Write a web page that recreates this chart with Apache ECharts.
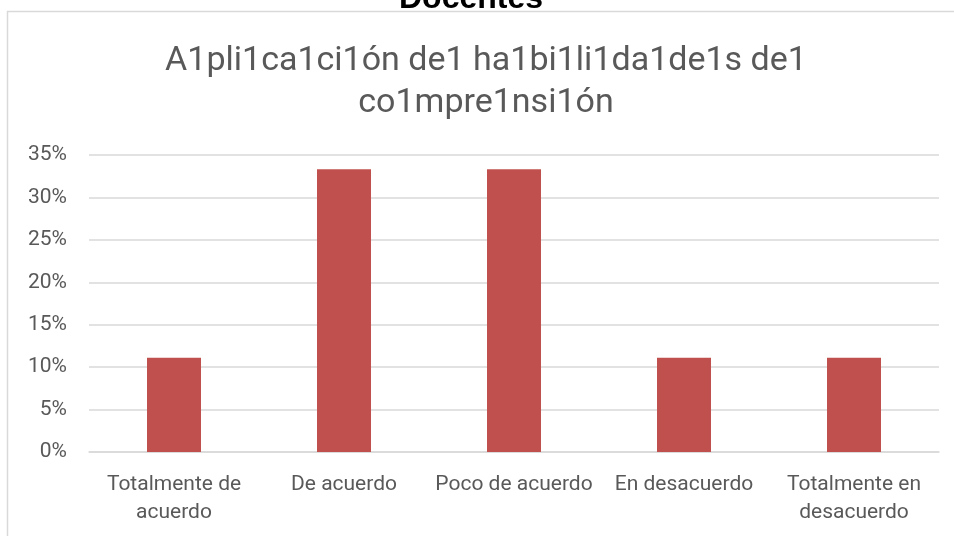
<!DOCTYPE html>
<html><head><meta charset="utf-8">
<script src="https://cdn.jsdelivr.net/npm/echarts@6/dist/echarts.min.js"></script>
<style>html,body{margin:0;padding:0;background:#fff}#c{width:954px;height:536px}</style>
</head><body><div id="c"></div>
<script>
const categories = ['Totalmente de\nacuerdo', 'De acuerdo', 'Poco de acuerdo', 'En desacuerdo', 'Totalmente en\ndesacuerdo'];
const values = [0.1111, 0.3333, 0.3333, 0.1111, 0.1111];
const yTicks = [0, 0.05, 0.10, 0.15, 0.20, 0.25, 0.30, 0.35];
const chartTitle = 'A1pli1ca1ci1ón de1 ha1bi1li1da1de1s de1\nco1mpre1nsi1ón';
const topTitle = 'Docentes';

const chart = echarts.init(document.getElementById('c'));
chart.setOption({
  animation: false,
  backgroundColor: '#fff',
  graphic: [{
    type: 'rect', shape: {x: 7.5, y: 11.5, width: 1000, height: 600},
    style: {fill: 'none', stroke: '#d9d9d9', lineWidth: 1.5}, z: -1
  }, {
    type: 'text', x: 486, y: 82,
    style: {text: chartTitle, align: 'center', verticalAlign: 'middle',
      font: 'normal 34px Roboto, sans-serif', lineHeight: 42, fill: '#595959'}
  }],
  title: [{
    text: topTitle, left: 394, top: -22,
    textStyle: {fontFamily: 'Liberation Sans', fontWeight: 'bold', fontSize: 32, color: '#000'}
  }],
  grid: {left: 89, right: 15, top: 155, bottom: 84, containLabel: false},
  xAxis: {
    type: 'category', data: categories,
    axisLine: {show: true, lineStyle: {color: '#d9d9d9', width: 1.5}},
    axisTick: {show: false},
    axisLabel: {color: '#595959', fontSize: 21, fontFamily: 'Roboto, sans-serif', lineHeight: 28, margin: 19, interval: 0}
  },
  yAxis: {
    type: 'value', min: 0, max: 0.35, interval: 0.05,
    axisLine: {show: false}, axisTick: {show: false},
    splitLine: {lineStyle: {color: '#d9d9d9', width: 1.5}},
    axisLabel: {color: '#595959', fontSize: 21, fontFamily: 'Roboto, sans-serif', margin: 22,
      formatter: v => Math.round(v * 100) + '%'}
  },
  series: [{
    type: 'bar', data: values, barWidth: 54,
    itemStyle: {color: '#c0504d'}
  }]
});
</script></body></html>
